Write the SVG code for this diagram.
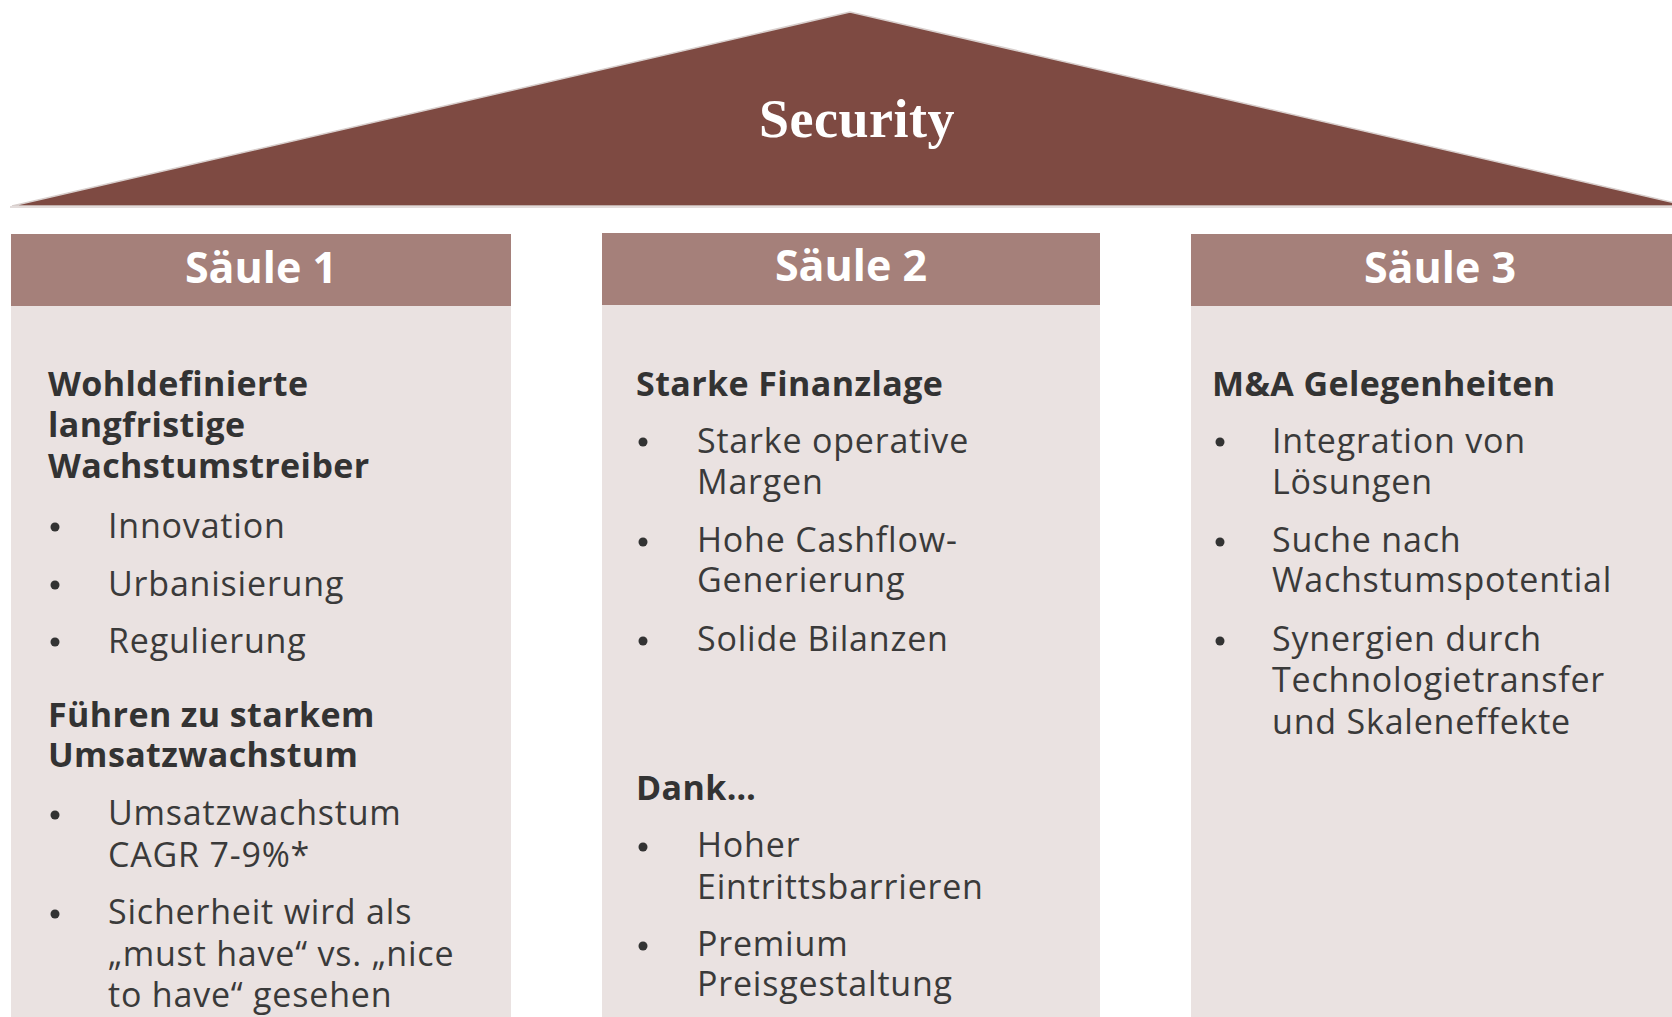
<svg xmlns="http://www.w3.org/2000/svg" width="1672" height="1017" viewBox="0 0 1672 1017">
<style>
.hdr{fill:#A5807A}
.body{fill:#EAE2E1}
.ht{font-family:"Open Sans","Noto Sans",sans-serif;font-weight:700;font-size:43px;fill:#fff;text-anchor:middle}
.b{font-family:"Open Sans","Noto Sans",sans-serif;font-weight:700;font-size:34px;fill:#333;letter-spacing:0.4px}
.t{font-family:"Open Sans","Noto Sans",sans-serif;font-size:34px;fill:#3a3a3a;letter-spacing:0.8px}
.dot{fill:#333}
</style>
<rect width="1672" height="1017" fill="#fff"/>
<g id="roof">
<polygon points="850,12 12,206 1688,206" fill="#7E4A42" stroke="#d8cfcd" stroke-width="1.5"/>
<line x1="10" y1="207" x2="1672" y2="207" stroke="#e3dcdb" stroke-width="2"/>
<text x="857" y="137" font-family="Liberation Serif,serif" font-weight="700" font-size="54" fill="#fff" text-anchor="middle" letter-spacing="0.5">Security</text>
</g>
<g id="col1">
<rect class="body" x="11" y="305" width="500" height="712"/>
<rect class="hdr" x="11" y="234" width="500" height="72"/>
<text class="ht" x="261" y="283">Säule 1</text>
<text class="b" x="48" y="396">Wohldefinierte</text>
<text class="b" x="48" y="437">langfristige</text>
<text class="b" x="48" y="478">Wachstumstreiber</text>
<circle class="dot" cx="55" cy="527" r="4.5"/><text class="t" x="108" y="538">Innovation</text>
<circle class="dot" cx="55" cy="585" r="4.5"/><text class="t" x="108" y="596">Urbanisierung</text>
<circle class="dot" cx="55" cy="642" r="4.5"/><text class="t" x="108" y="653">Regulierung</text>
<text class="b" x="48" y="727">Führen zu starkem</text>
<text class="b" x="48" y="767">Umsatzwachstum</text>
<circle class="dot" cx="55" cy="815" r="4.5"/><text class="t" x="108" y="825">Umsatzwachstum</text>
<text class="t" x="108" y="867">CAGR 7-9%*</text>
<circle class="dot" cx="55" cy="914" r="4.5"/><text class="t" x="108" y="924">Sicherheit wird als</text>
<text class="t" x="108" y="966">„must have“ vs. „nice</text>
<text class="t" x="108" y="1007">to have“ gesehen</text>
</g>
<g id="col2">
<rect class="body" x="602" y="304" width="498" height="713"/>
<rect class="hdr" x="602" y="233" width="498" height="72"/>
<text class="ht" x="851" y="281">Säule 2</text>
<text class="b" x="636" y="396">Starke Finanzlage</text>
<circle class="dot" cx="643" cy="442" r="4.5"/><text class="t" x="697" y="453">Starke operative</text>
<text class="t" x="697" y="494">Margen</text>
<circle class="dot" cx="643" cy="542" r="4.5"/><text class="t" x="697" y="552">Hohe Cashflow-</text>
<text class="t" x="697" y="592">Generierung</text>
<circle class="dot" cx="643" cy="641" r="4.5"/><text class="t" x="697" y="651">Solide Bilanzen</text>
<text class="b" x="636" y="800">Dank…</text>
<circle class="dot" cx="643" cy="847" r="4.5"/><text class="t" x="697" y="857">Hoher</text>
<text class="t" x="697" y="899">Eintrittsbarrieren</text>
<circle class="dot" cx="643" cy="946" r="4.5"/><text class="t" x="697" y="956">Premium</text>
<text class="t" x="697" y="996">Preisgestaltung</text>
</g>
<g id="col3">
<rect class="body" x="1191" y="305" width="498" height="712"/>
<rect class="hdr" x="1191" y="234" width="498" height="72"/>
<text class="ht" x="1440" y="283">Säule 3</text>
<text class="b" x="1212" y="396">M&amp;A Gelegenheiten</text>
<circle class="dot" cx="1220" cy="442" r="4.5"/><text class="t" x="1272" y="453">Integration von</text>
<text class="t" x="1272" y="494">Lösungen</text>
<circle class="dot" cx="1220" cy="542" r="4.5"/><text class="t" x="1272" y="552">Suche nach</text>
<text class="t" x="1272" y="592">Wachstumspotential</text>
<circle class="dot" cx="1220" cy="641" r="4.5"/><text class="t" x="1272" y="651">Synergien durch</text>
<text class="t" x="1272" y="692">Technologietransfer</text>
<text class="t" x="1272" y="734">und Skaleneffekte</text>
</g>
<g id="connectors"/>
</svg>
